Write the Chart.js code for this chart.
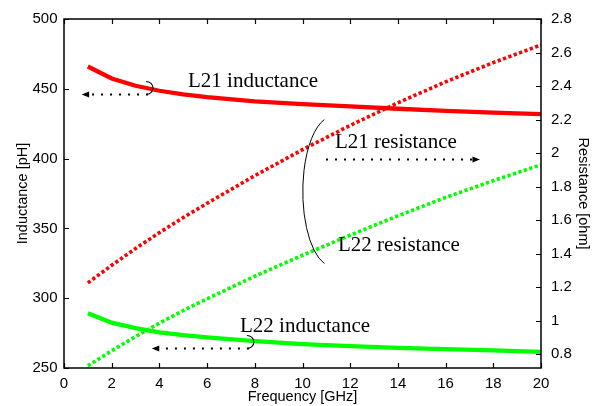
<!DOCTYPE html>
<html>
<head>
<meta charset="utf-8">
<script src="https://cdn.jsdelivr.net/npm/chart.js@4.4.1/dist/chart.umd.min.js"></script>
<style>
    html, body { margin: 0; padding: 0; background: #fff; }
    canvas { display: block; }
</style>
</head>
<body>
<canvas id="inductorChart" width="597" height="406"></canvas>
<script>
// Frequency points in GHz
const freqGHz = [1, 2, 3, 4, 5, 6, 8, 10, 12, 14, 16, 18, 20];

// Inductance in pH (left axis)
const l21Inductance = [466, 457.4, 452.2, 448.6, 446, 444, 441, 439, 437.4, 435.7, 434.2, 433, 431.8];
const l22Inductance = [289.3, 282.5, 278.6, 275.6, 273.6, 272, 269.2, 267.1, 265.6, 264.4, 263.5, 262.6, 261.6];

// Resistance in ohm (right axis)
const l21Resistance = [1.225, 1.33, 1.43, 1.525, 1.615, 1.7, 1.865, 2.02, 2.165, 2.3, 2.425, 2.54, 2.645];
const l22Resistance = [0.73, 0.82, 0.905, 0.985, 1.06, 1.13, 1.265, 1.39, 1.51, 1.625, 1.735, 1.835, 1.93];

// Tick values
const freqTicks = [0, 2, 4, 6, 8, 10, 12, 14, 16, 18, 20];
const inductanceTicks = [250, 300, 350, 400, 450, 500];
const resistanceTicks = [0.8, 1, 1.2, 1.4, 1.6, 1.8, 2, 2.2, 2.4, 2.6, 2.8];

const sansFont = '"Liberation Sans", Arial, sans-serif';
const serifFont = '"Liberation Serif", "Times New Roman", serif';

const makeSeries = (label, values, color, axis, dotted) => ({
    label: label,
    yAxisID: axis,
    data: freqGHz.map((f, i) => ({ x: f, y: values[i] })),
    borderColor: color,
    backgroundColor: color,
    borderWidth: dotted ? 3.6 : 4.3,
    borderDash: dotted ? [3.3, 2.4] : [],
    borderCapStyle: 'butt',
    pointRadius: 0,
    tension: 0,
    fill: false
});

// Frame around the plot with inward tick marks on all sides
const framePlugin = {
    id: 'frame',
    afterDraw(chart) {
        const { ctx, chartArea: a, scales } = chart;
        const len = 5;
        ctx.save();
        ctx.strokeStyle = '#000';
        ctx.lineWidth = 1.5;
        ctx.strokeRect(a.left, a.top, a.right - a.left, a.bottom - a.top);
        ctx.lineWidth = 1.2;
        ctx.beginPath();
        freqTicks.forEach(v => {
            const x = Math.round(scales.x.getPixelForValue(v)) + 0.5;
            ctx.moveTo(x, a.bottom); ctx.lineTo(x, a.bottom - len);
            ctx.moveTo(x, a.top); ctx.lineTo(x, a.top + len);
        });
        inductanceTicks.forEach(v => {
            const y = Math.round(scales.y.getPixelForValue(v)) + 0.5;
            ctx.moveTo(a.left, y); ctx.lineTo(a.left + len, y);
        });
        resistanceTicks.forEach(v => {
            const y = Math.round(scales.y1.getPixelForValue(v)) + 0.5;
            ctx.moveTo(a.right, y); ctx.lineTo(a.right - len, y);
        });
        ctx.stroke();
        ctx.restore();
    }
};

// Curve labels, dotted pointer arrows and brackets, placed in (GHz, pH) coordinates
const noteLabels = [
    { text: 'L21 inductance', f: 5.2, v: 451.0 },
    { text: 'L21 resistance', f: 11.36, v: 407.9 },
    { text: 'L22 resistance', f: 11.49, v: 333.8 },
    { text: 'L22 inductance', f: 7.38, v: 275.8 }
];
const noteArrows = [
    { from: 3.44, to: 0.74, v: 446.2, hook: true },
    { from: 11.07, to: 17.44, v: 399.4, hook: false },
    { from: 7.67, to: 3.68, v: 264.4, hook: true }
];

const notesPlugin = {
    id: 'notes',
    afterDraw(chart) {
        const { ctx } = chart;
        const px = f => chart.scales.x.getPixelForValue(f);
        const py = v => chart.scales.y.getPixelForValue(v);
        ctx.save();
        ctx.fillStyle = '#000';
        ctx.strokeStyle = '#000';

        ctx.font = '21px ' + serifFont;
        ctx.textAlign = 'left';
        ctx.textBaseline = 'alphabetic';
        noteLabels.forEach(n => ctx.fillText(n.text, px(n.f), py(n.v)));

        noteArrows.forEach(a => {
            const x0 = px(a.from), x1 = px(a.to), y = Math.round(py(a.v)) + 0.5;
            const dir = Math.sign(x1 - x0);
            const head = 7.5;
            ctx.lineWidth = 2;
            ctx.setLineDash([2, 7]);
            ctx.beginPath();
            ctx.moveTo(x0 - dir * 2, y);
            ctx.lineTo(x1 - dir * head, y);
            ctx.stroke();
            ctx.setLineDash([]);
            ctx.beginPath();
            ctx.moveTo(x1, y);
            ctx.lineTo(x1 - dir * head, y - 3);
            ctx.lineTo(x1 - dir * head, y + 3);
            ctx.closePath();
            ctx.fill();
            if (a.hook) {
                ctx.lineWidth = 1.1;
                ctx.beginPath();
                ctx.ellipse(x0, y - 6.5, 7, 6.5, 0, -Math.PI / 2, Math.PI / 2);
                ctx.stroke();
            }
        });

        // bracket grouping the two resistance curves
        ctx.lineWidth = 1;
        ctx.beginPath();
        ctx.ellipse(px(11.27), py(376.4), 30, 75, 0, 1.855, 4.428);
        ctx.stroke();
        ctx.restore();
    }
};

const tickFont = { family: sansFont, size: 15 };
const titleFont = { family: sansFont, size: 14.5 };

new Chart(document.getElementById('inductorChart').getContext('2d'), {
    type: 'line',
    data: {
        datasets: [
            makeSeries('L21 resistance', l21Resistance, '#ff0000', 'y1', true),
            makeSeries('L22 resistance', l22Resistance, '#00ff00', 'y1', true),
            makeSeries('L21 inductance', l21Inductance, '#ff0000', 'y', false),
            makeSeries('L22 inductance', l22Inductance, '#00ff00', 'y', false)
        ]
    },
    options: {
        responsive: false,
        animation: false,
        devicePixelRatio: 1,
        layout: { padding: { top: 16, left: 0, right: 0, bottom: 0 } },
        plugins: {
            legend: { display: false },
            tooltip: { enabled: false }
        },
        scales: {
            x: {
                type: 'linear',
                position: 'bottom',
                min: 0,
                max: 20,
                afterBuildTicks: s => { s.ticks = freqTicks.map(v => ({ value: v })); },
                afterFit: s => { s.height = 38; },
                grid: { display: false, drawTicks: false },
                border: { display: false },
                ticks: { color: '#000', font: tickFont, padding: 7, maxRotation: 0, autoSkip: false },
                title: { display: true, text: 'Frequency [GHz]', color: '#000', font: titleFont, padding: { top: 0, bottom: 0 } }
            },
            y: {
                type: 'linear',
                position: 'left',
                min: 250,
                max: 500,
                afterBuildTicks: s => { s.ticks = inductanceTicks.map(v => ({ value: v })); },
                afterFit: s => { s.width = 64; },
                grid: { display: false, drawTicks: false },
                border: { display: false },
                ticks: { color: '#000', font: tickFont, padding: 6.5, autoSkip: false },
                title: { display: true, text: 'Inductance [pH]', color: '#000', font: titleFont, padding: { top: 14, bottom: 0 } }
            },
            y1: {
                type: 'linear',
                position: 'right',
                min: 0.717,
                max: 2.8,
                afterBuildTicks: s => { s.ticks = resistanceTicks.map(v => ({ value: v })); },
                afterFit: s => { s.width = 56; },
                grid: { display: false, drawTicks: false },
                border: { display: false },
                ticks: {
                    color: '#000',
                    font: tickFont,
                    padding: 10,
                    autoSkip: false,
                    callback: v => String(Math.round(v * 10) / 10)
                },
                title: { display: true, text: 'Resistance [ohm]', color: '#000', font: titleFont, padding: { top: 5.3, bottom: 0 } }
            }
        }
    },
    plugins: [framePlugin, notesPlugin]
});
</script>
</body>
</html>
